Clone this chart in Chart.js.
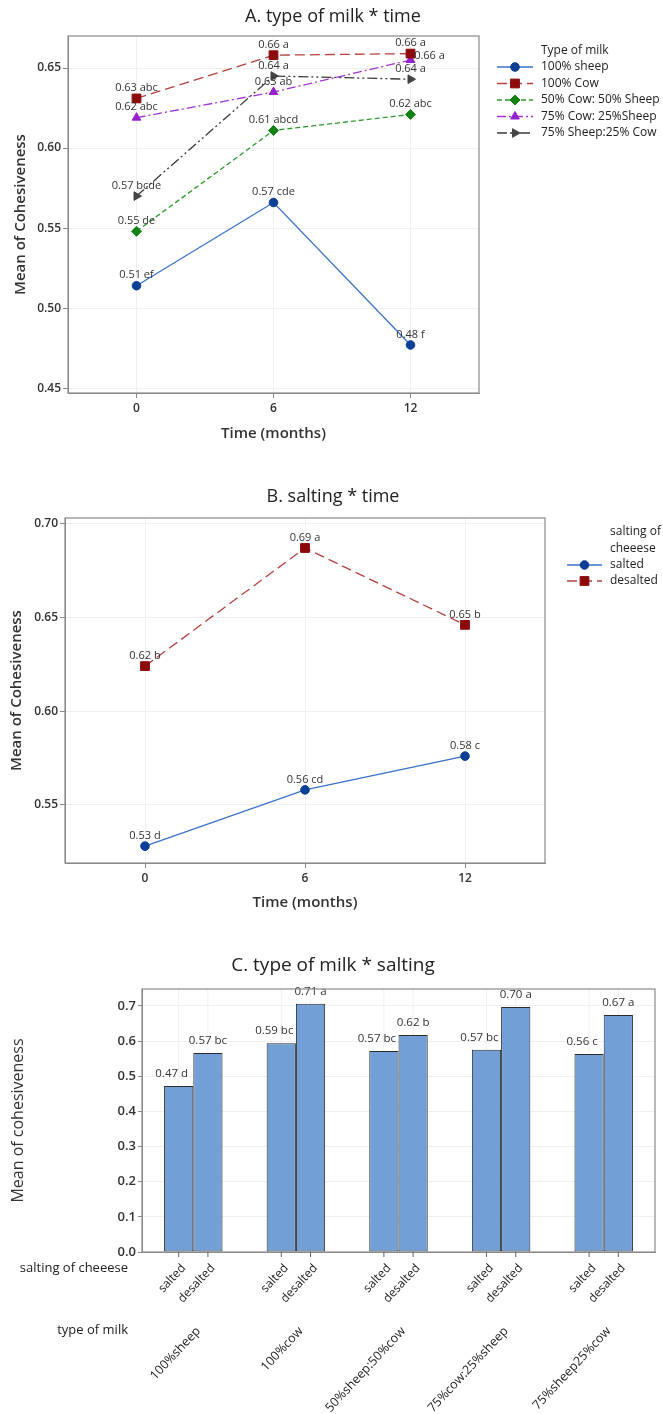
<!DOCTYPE html>
<html>
<head>
<meta charset="utf-8">
<script src="https://cdn.jsdelivr.net/npm/chart.js@4/dist/chart.umd.min.js"></script>
<style>
body { margin: 0; background: #fff; width: 663px; height: 1414px; overflow: hidden; position: relative; }
canvas { position: absolute; left: 0; }
</style>
</head>
<body>
<canvas id="chartA" width="663" height="460" style="top:0"></canvas>
<canvas id="chartB" width="663" height="440" style="top:480px"></canvas>
<canvas id="chartC" width="663" height="474" style="top:940px"></canvas>
<script>
const FONT = "'Open Sans', 'Noto Sans', sans-serif"

// A. type of milk * time
const months = [0, 6, 12]
const sheep100 = [0.514, 0.566, 0.477]
const cow100 = [0.631, 0.658, 0.659]
const cow50sheep50 = [0.548, 0.611, 0.621]
const cow75sheep25 = [0.619, 0.635, 0.655]
const sheep75cow25 = [0.570, 0.645, 0.643]
const sheep100Text = ['0.51 ef', '0.57 cde', '0.48 f']
const cow100Text = ['0.63 abc', '0.66 a', '0.66 a']
const cow50Text = ['0.55 de', '0.61 abcd', '0.62 abc']
const cow75Text = ['0.62 abc', '0.63 ab', '0.66 a']
const sheep75Text = ['0.57 bcde', '0.64 a', '0.64 a']
const milkTicks = [0.45, 0.50, 0.55, 0.60, 0.65]

// B. salting * time
const saltedB = [0.528, 0.558, 0.576]
const desaltedB = [0.624, 0.687, 0.646]
const saltedBText = ['0.53 d', '0.56 cd', '0.58 c']
const desaltedBText = ['0.62 b', '0.69 a', '0.65 b']
const saltTicks = [0.55, 0.60, 0.65, 0.70]

// C. type of milk * salting
const milkTypes = ['100%sheep', '100%cow', '50%sheep:50%cow', '75%cow:25%sheep', '75%sheep25%cow']
const saltedC = [0.472, 0.594, 0.572, 0.575, 0.563]
const desaltedC = [0.566, 0.706, 0.617, 0.697, 0.674]
const saltedCText = ['0.47 d', '0.59 bc', '0.57 bc', '0.57 bc', '0.56 c']
const desaltedCText = ['0.57 bc', '0.71 a', '0.62 b', '0.70 a', '0.67 a']
const barTicks = [0, 0.1, 0.2, 0.3, 0.4, 0.5, 0.6, 0.7]

function fixTicks(values) {
    return scale => { scale.ticks = values.map(v => ({ value: v })) }
}
function points(values) {
    return values.map((v, i) => ({ x: months[i], y: v }))
}

// title centred on the page
const panelTitle = {
    id: 'panelTitle',
    afterDraw(chart, args, opts) {
        const ctx = chart.ctx
        ctx.save()
        ctx.font = `${opts.size}px ${FONT}`
        ctx.fillStyle = '#222'
        ctx.textAlign = 'center'
        ctx.textBaseline = 'middle'
        ctx.fillText(opts.text, 333, opts.y)
        ctx.restore()
    }
}

// grey box round the plot
const frame = {
    id: 'frame',
    afterDraw(chart) {
        const a = chart.chartArea, ctx = chart.ctx
        ctx.save()
        ctx.strokeStyle = '#8a8a8a'
        ctx.lineWidth = 1.2
        ctx.strokeRect(a.left, a.top, a.right - a.left, a.bottom - a.top)
        ctx.restore()
    }
}

// value + letters above each mark
const pointText = {
    id: 'pointText',
    afterDatasetsDraw(chart, args, opts) {
        const ctx = chart.ctx
        ctx.save()
        ctx.font = `${opts.size}px ${FONT}`
        ctx.fillStyle = '#333'
        ctx.textAlign = 'center'
        ctx.textBaseline = 'middle'
        chart.data.datasets.forEach((ds, i) => {
            chart.getDatasetMeta(i).data.forEach((el, j) => {
                const shift = (ds.textShift && ds.textShift[j]) || [0, 0]
                ctx.fillText(ds.pointText[j], el.x + (ds.textDx || 0) + shift[0], el.y - opts.gap + shift[1])
            })
        })
        ctx.restore()
    }
}

// legend to the right, line sample with marker
const sideLegend = {
    id: 'sideLegend',
    afterDraw(chart, args, opts) {
        const ctx = chart.ctx
        ctx.save()
        ctx.font = `12px ${FONT}`
        ctx.textAlign = 'left'
        ctx.textBaseline = 'middle'
        ctx.fillStyle = '#222'
        opts.title.forEach((t, i) => ctx.fillText(t, opts.textX, opts.titleY + i * opts.titleGap))
        chart.data.datasets.forEach((ds, i) => {
            const y = opts.rowY + i * opts.rowGap
            ctx.strokeStyle = ds.borderColor
            ctx.lineWidth = ds.borderWidth
            ctx.setLineDash(ds.borderDash || [])
            ctx.beginPath()
            ctx.moveTo(opts.lineX0, y)
            ctx.lineTo(opts.lineX1, y)
            ctx.stroke()
            ctx.setLineDash([])
            ctx.fillStyle = ds.pointBackgroundColor
            ctx.strokeStyle = ds.pointBorderColor
            ctx.lineWidth = 1
            Chart.helpers.drawPoint(ctx, {
                pointStyle: ds.pointStyle, rotation: ds.pointRotation || 0,
                radius: ds.pointRadius, borderWidth: 1
            }, (opts.lineX0 + opts.lineX1) / 2, y)
            ctx.fillStyle = '#222'
            ctx.fillText(ds.label, opts.textX, y)
        })
        ctx.restore()
    }
}

function lineSet(label, values, text, line, marker, style, radius, dash) {
    return {
        label: label,
        data: points(values),
        pointText: text,
        borderColor: line,
        borderWidth: 1.3,
        borderDash: dash,
        pointStyle: style,
        pointRadius: radius,
        pointBackgroundColor: marker,
        pointBorderColor: marker,
        pointBorderWidth: 1
    }
}

function timeScales(yMin, yMax, yTicks, left, xHeight, yTitlePad) {
    return {
        x: {
            type: 'linear', min: -3, max: 15,
            afterBuildTicks: fixTicks(months),
            afterFit: s => { s.height = xHeight },
            grid: { color: '#efefef', tickColor: '#888', tickLength: 5 },
            border: { color: '#8a8a8a' },
            ticks: { font: { family: FONT, size: 12, weight: '600' }, color: '#333', padding: 3 },
            title: { display: true, text: 'Time (months)', color: '#333',
                font: { family: FONT, size: 15, weight: '600' }, padding: { top: 4, bottom: 4 } }
        },
        y: {
            min: yMin, max: yMax,
            afterBuildTicks: fixTicks(yTicks),
            afterFit: s => { s.width = left },
            grid: { color: '#efefef', tickColor: '#888', tickLength: 5 },
            border: { color: '#8a8a8a' },
            ticks: { font: { family: FONT, size: 12, weight: '600' }, color: '#333', padding: 2,
                callback: v => v.toFixed(2) },
            title: { display: true, text: 'Mean of Cohesiveness', color: '#333',
                font: { family: FONT, size: 15, weight: '600' }, padding: { top: yTitlePad, bottom: 0 } }
        }
    }
}

const chartA = new Chart(document.querySelector('#chartA'), {
    type: 'line',
    data: {
        datasets: [
            lineSet('100% sheep', sheep100, sheep100Text, '#3a72cc', '#0d3f96', 'circle', 4.3, []),
            lineSet('100% Cow', cow100, cow100Text, '#b5403f', '#8c0a0a', 'rect', 6.2, [10, 5]),
            lineSet('50% Cow: 50% Sheep', cow50sheep50, cow50Text, '#2c9a2c', '#128312', 'rectRot', 5, [5, 3]),
            Object.assign(lineSet('75% Cow: 25%Sheep', cow75sheep25, cow75Text, '#a234d6', '#9520cf', 'triangle', 5, [9, 3, 2, 3]),
                { textShift: [null, null, [19, 6]] }),
            Object.assign(lineSet('75% Sheep:25% Cow', sheep75cow25, sheep75Text, '#3a3a3a', '#444444', 'triangle', 5, [10, 3, 2, 3, 2, 3]),
                { pointRotation: 90 })
        ]
    },
    options: {
        responsive: false,
        animation: false,
        devicePixelRatio: 1,
        layout: { padding: { top: 36, right: 184, bottom: 13, left: 0 } },
        scales: timeScales(0.447, 0.670, milkTicks, 68, 54, 12),
        plugins: {
            legend: { display: false },
            tooltip: { enabled: false },
            panelTitle: { text: 'A. type of milk * time', y: 17, size: 18 },
            pointText: { size: 11, gap: 10.5 },
            sideLegend: { title: ['Type of milk'], textX: 541, titleY: 51, titleGap: 16,
                rowY: 67, rowGap: 16.5, lineX0: 497, lineX1: 533 }
        }
    },
    plugins: [panelTitle, frame, pointText, sideLegend]
})

const chartB = new Chart(document.querySelector('#chartB'), {
    type: 'line',
    data: {
        datasets: [
            lineSet('salted', saltedB, saltedBText, '#3a72cc', '#0d3f96', 'circle', 4.3, []),
            lineSet('desalted', desaltedB, desaltedBText, '#b5403f', '#8c0a0a', 'rect', 6.2, [10, 5])
        ]
    },
    options: {
        responsive: false,
        animation: false,
        devicePixelRatio: 1,
        layout: { padding: { top: 38, right: 118, bottom: 4, left: 0 } },
        scales: timeScales(0.519, 0.703, saltTicks, 65, 53, 8),
        plugins: {
            legend: { display: false },
            tooltip: { enabled: false },
            panelTitle: { text: 'B. salting * time', y: 17, size: 18 },
            pointText: { size: 11, gap: 10.5 },
            sideLegend: { title: ['salting of', 'cheeese'], textX: 610, titleY: 52, titleGap: 17,
                rowY: 85, rowGap: 16, lineX0: 567, lineX1: 602 }
        }
    },
    plugins: [panelTitle, frame, pointText, sideLegend]
})

// bar ticks, rotated salting labels, milk labels and row captions
const barAxis = {
    id: 'barAxis',
    beforeDatasetsDraw(chart) {
        const ctx = chart.ctx, a = chart.chartArea
        ctx.save()
        ctx.strokeStyle = '#efefef'
        ctx.lineWidth = 1
        chart.data.datasets.forEach((ds, i) => {
            chart.getDatasetMeta(i).data.forEach(el => {
                ctx.beginPath()
                ctx.moveTo(el.x, a.top)
                ctx.lineTo(el.x, a.bottom)
                ctx.stroke()
            })
        })
        ctx.restore()
    },
    afterDraw(chart) {
        const ctx = chart.ctx, a = chart.chartArea
        const angle = -47 * Math.PI / 180
        ctx.save()
        ctx.strokeStyle = '#666'
        ctx.fillStyle = '#222'
        ctx.lineWidth = 1
        chart.data.datasets.forEach((ds, i) => {
            chart.getDatasetMeta(i).data.forEach(el => {
                ctx.beginPath()
                ctx.moveTo(el.x, a.bottom)
                ctx.lineTo(el.x, a.bottom + 5)
                ctx.stroke()
                ctx.save()
                ctx.translate(el.x + 5, a.bottom + 14)
                ctx.rotate(angle)
                ctx.font = `12px ${FONT}`
                ctx.textAlign = 'right'
                ctx.textBaseline = 'middle'
                ctx.fillText(ds.label, 0, 0)
                ctx.restore()
            })
        })
        const x = chart.scales.x
        chart.data.labels.forEach((lab, i) => {
            ctx.save()
            ctx.translate(x.getPixelForValue(i) + 5, a.bottom + 77)
            ctx.rotate(angle)
            ctx.font = `12.5px ${FONT}`
            ctx.textAlign = 'right'
            ctx.textBaseline = 'middle'
            ctx.fillText(lab, 0, 0)
            ctx.restore()
        })
        ctx.font = `13px ${FONT}`
        ctx.textAlign = 'right'
        ctx.textBaseline = 'middle'
        ctx.fillText('salting of cheeese', 128, a.bottom + 16)
        ctx.fillText('type of milk', 128, a.bottom + 78)
        ctx.restore()
    }
}

const chartC = new Chart(document.querySelector('#chartC'), {
    type: 'bar',
    data: {
        labels: milkTypes,
        datasets: [
            { label: 'salted', data: saltedC, pointText: saltedCText, textDx: -7,
              backgroundColor: '#729fd6', borderColor: '#2b2b2b', borderWidth: 1, borderSkipped: false,
              categoryPercentage: 0.57, barPercentage: 1 },
            { label: 'desalted', data: desaltedC, pointText: desaltedCText,
              backgroundColor: '#729fd6', borderColor: '#2b2b2b', borderWidth: 1, borderSkipped: false,
              categoryPercentage: 0.57, barPercentage: 1 }
        ]
    },
    options: {
        responsive: false,
        animation: false,
        devicePixelRatio: 1,
        layout: { padding: { top: 49, right: 8, bottom: 0, left: 0 } },
        scales: {
            x: {
                afterFit: s => { s.height = 162 },
                grid: { display: false },
                border: { color: '#8a8a8a' },
                ticks: { display: false }
            },
            y: {
                min: 0, max: 0.748,
                afterBuildTicks: fixTicks(barTicks),
                afterFit: s => { s.width = 142 },
                grid: { color: '#efefef', tickColor: '#888', tickLength: 4 },
                border: { color: '#8a8a8a' },
                ticks: { font: { family: FONT, size: 13, weight: '600' }, color: '#333', padding: 2,
                    callback: v => v.toFixed(1) },
                title: { display: true, text: 'Mean of cohesiveness', color: '#333',
                    font: { family: FONT, size: 16 }, padding: { top: 9, bottom: 0 } }
            }
        },
        plugins: {
            legend: { display: false },
            tooltip: { enabled: false },
            panelTitle: { text: 'C. type of milk * salting', y: 26, size: 19 },
            pointText: { size: 11.5, gap: 12 }
        }
    },
    plugins: [panelTitle, frame, barAxis, pointText]
})
</script>
</body>
</html>
